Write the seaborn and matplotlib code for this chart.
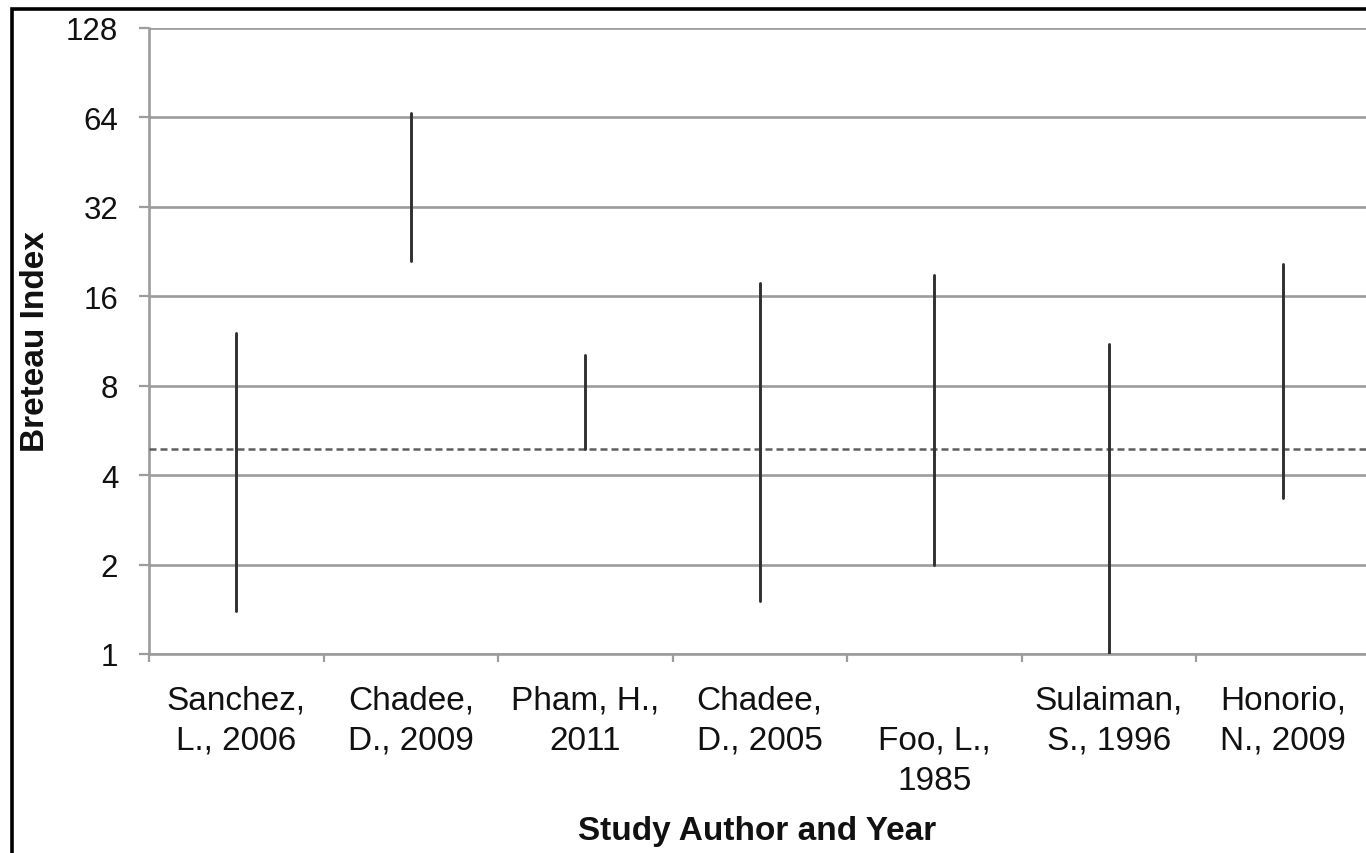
import matplotlib
matplotlib.use("Agg")
import matplotlib.pyplot as plt
from matplotlib.patches import Rectangle
from matplotlib.ticker import FixedLocator, NullFormatter, FixedFormatter
import numpy as np
import pandas as pd
import seaborn as sns

# Breteau Index ranges reported per study
studies = ["Sanchez, L., 2006", "Chadee, D., 2009", "Pham, H., 2011",
           "Chadee, D., 2005", "Foo, L., 1985", "Sulaiman, S., 1996",
           "Honorio, N., 2009"]
tick_labels = ["Sanchez,\nL., 2006", "Chadee,\nD., 2009", "Pham, H.,\n2011",
               "Chadee,\nD., 2005", "\nFoo, L.,\n1985", "Sulaiman,\nS., 1996",
               "Honorio,\nN., 2009"]
bi_low = [1.4, 21.0, 4.9, 1.51, 2.0, 1.0, 3.34]
bi_high = [12.0, 66.0, 10.15, 17.7, 18.9, 11.05, 20.5]
threshold = 4.9
y_ticks = [1, 2, 4, 8, 16, 32, 64, 128]

sns.set_theme(style="white")
plt.rcParams["font.family"] = ["Liberation Sans", "DejaVu Sans"]

W, H = 1366, 854
fig = plt.figure(figsize=(W / 100, H / 100), dpi=100)
ax = fig.add_axes([149 / W, 1 - 655 / H, (1370.5 - 149) / W, (655 - 29) / H])

grid_c = "#9c9c9c"

# long-form table: one unit per study, two points (low, high)
df = pd.DataFrame({
    "study": np.repeat(studies, 2),
    "pos": np.repeat(np.arange(len(studies)), 2),
    "value": np.ravel(np.column_stack([bi_low, bi_high])),
})

ax.set_yscale("log", base=2)
for y in y_ticks:
    ax.axhline(y, color=grid_c, lw=1.9, zorder=1)

sns.lineplot(data=df, x="pos", y="value", units="study", estimator=None,
             color="#303030", lw=2.1, ax=ax, zorder=3, legend=False)

ax.axhline(threshold, color="#5e5e5e", lw=1.8, dashes=(2.8, 1.6), zorder=2)

ax.set_ylim(1, 128)
ax.set_xlim(-0.5, len(studies) - 0.5)

ax.yaxis.set_major_locator(FixedLocator(y_ticks))
ax.yaxis.set_major_formatter(FixedFormatter([str(v) for v in y_ticks]))
ax.yaxis.set_minor_locator(FixedLocator([]))
ax.tick_params(axis="y", which="major", length=7.2, width=1.6, color=grid_c,
               pad=15, labelsize=22.5, labelcolor="#111111", left=True)

ax.xaxis.set_major_locator(FixedLocator(np.arange(len(studies) + 1) - 0.5))
ax.xaxis.set_major_formatter(NullFormatter())
ax.xaxis.set_minor_locator(FixedLocator(np.arange(len(studies))))
ax.xaxis.set_minor_formatter(FixedFormatter(tick_labels))
ax.tick_params(axis="x", which="major", length=5.8, width=1.6, color=grid_c,
               direction="out", bottom=True)
ax.tick_params(axis="x", which="minor", length=0, pad=22, labelsize=24,
               labelcolor="#111111", bottom=True)
for t in ax.xaxis.get_minorticklabels():
    t.set_multialignment("center")
    t.set_linespacing(1.38)

for side in ["top", "right"]:
    ax.spines[side].set_visible(False)
for side in ["left", "bottom"]:
    ax.spines[side].set_color(grid_c)
    ax.spines[side].set_linewidth(1.9)
    ax.spines[side].set_zorder(1)

ax.set_xlabel("Study Author and Year", fontsize=24, fontweight="bold",
              color="#111111")
ax.xaxis.set_label_coords(0.498, -(816 - 655) / 626)
ax.xaxis.label.set_va("top")
ax.set_ylabel("Breteau Index", fontsize=24, fontweight="bold", color="#111111")
ax.yaxis.set_label_coords((36 - 149) / 1221.5, 0.5)
ax.yaxis.label.set_va("center")

# black frame along the left and top edges
fig.patches.append(Rectangle((12 / W, -0.1), 1.2, 1.1 - 9.5 / H,
                             transform=fig.transFigure, fill=False,
                             edgecolor="black", lw=2.6, zorder=10))

fig.savefig("out.png", dpi=100, facecolor="white")
